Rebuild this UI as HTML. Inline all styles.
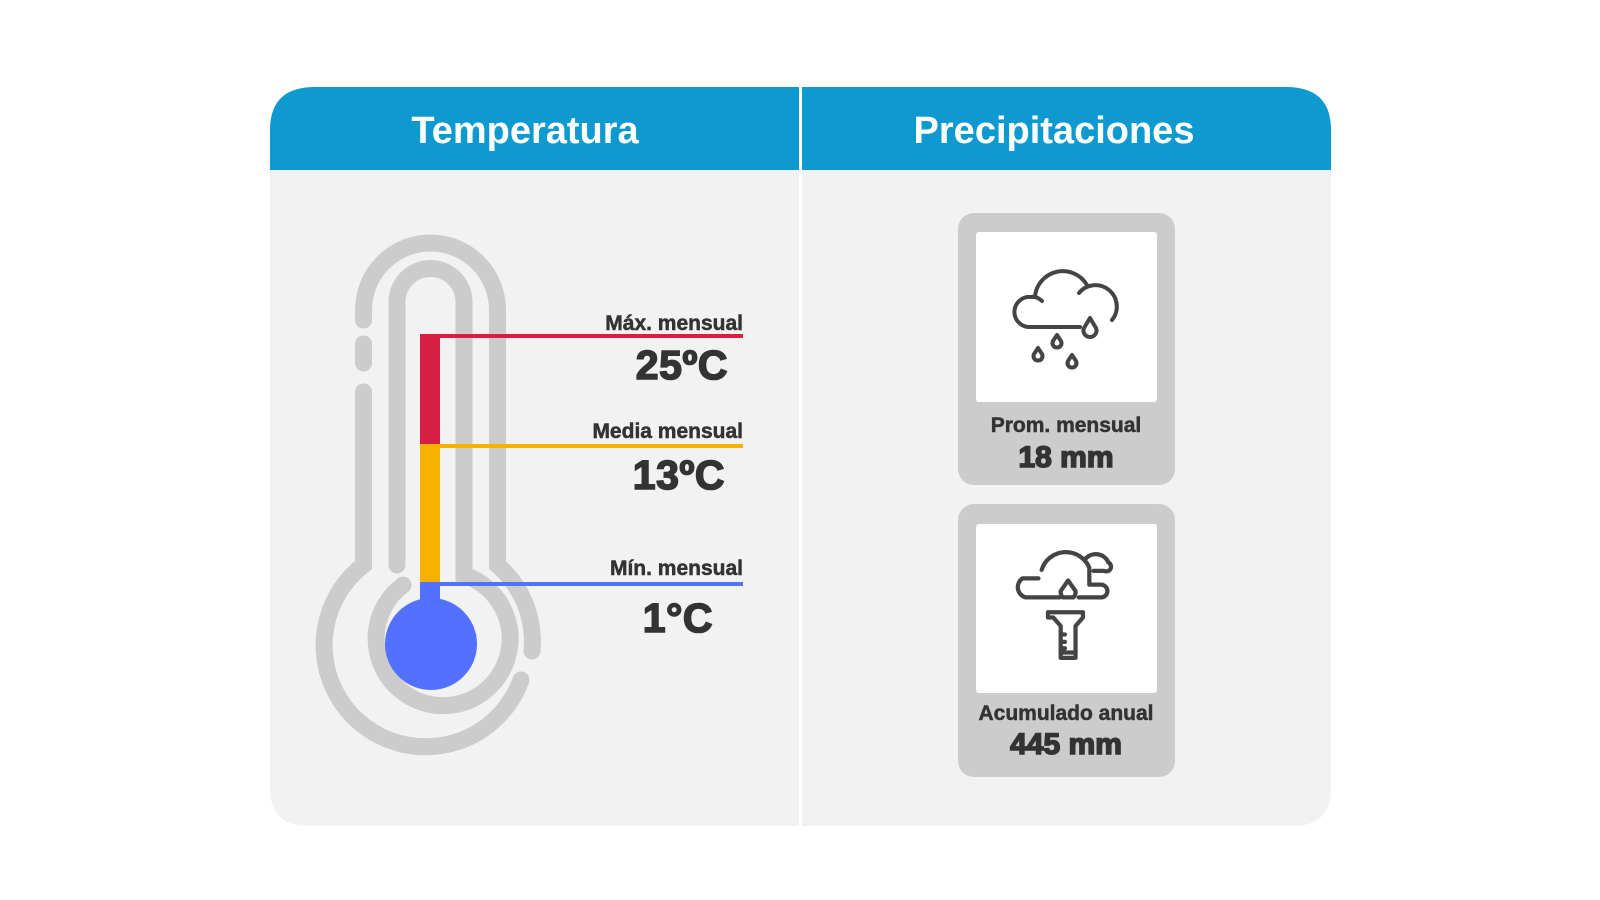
<!DOCTYPE html>
<html><head><meta charset="utf-8"><style>
html,body{margin:0;padding:0;background:#fff;width:1600px;height:900px;overflow:hidden}
svg{display:block}
text{font-family:"Liberation Sans",Arial,sans-serif;font-weight:bold;fill:#333}
.big{stroke:#333;stroke-width:1.6px}
.lab{stroke:#333;stroke-width:0.5px}
</style></head><body>
<svg width="1600" height="900" viewBox="0 0 1600 900">
<path d="M270,130 Q270,87 315,87 H1286 Q1331,87 1331,130 V788 Q1331,826 1293,826 H308 Q270,826 270,788 Z" fill="#f2f2f2"/>
<path d="M270,130 Q270,87 315,87 H1286 Q1331,87 1331,130 V170 H270 Z" fill="#0e99d0"/>
<rect x="799" y="87" width="3" height="739" fill="#fff"/>
<text x="525" y="143" font-size="38" text-anchor="middle" style="fill:#fff">Temperatura</text>
<text x="1054" y="143" font-size="38" text-anchor="middle" style="fill:#fff">Precipitaciones</text>

<g fill="none" stroke="#cccccc" stroke-width="17" stroke-linecap="round">
  <path d="M363.5,320 V310 A67,67 0 0 1 497.5,310 V565 A101.5,101.5 0 0 1 532,651"/>
  <line x1="363.5" y1="344" x2="363.5" y2="363"/>
  <path d="M363.5,392 V565 A101.5,101.5 0 1 0 521,680"/>
  <path d="M397,565 V302 A33.5,33.5 0 0 1 464,302 V575 A67,67 0 1 1 403,585"/>
</g>
<rect x="420" y="334" width="20" height="110" fill="#d61f43"/>
<rect x="420" y="444" width="20" height="138" fill="#f7b200"/>
<rect x="420" y="582" width="20" height="25" fill="#5271ff"/>
<circle cx="431" cy="644" r="46" fill="#5271ff"/>
<rect x="430" y="334" width="313" height="4" fill="#d61f43"/>
<rect x="430" y="444" width="313" height="4" fill="#f7b200"/>
<rect x="430" y="582" width="313" height="4" fill="#5271ff"/>
<text class="lab" x="743" y="330" font-size="21" text-anchor="end">Máx. mensual</text>
<text class="big" x="728" y="379" font-size="41" text-anchor="end" letter-spacing="0.5">25ºC</text>
<text class="lab" x="743" y="438" font-size="21" text-anchor="end">Media mensual</text>
<text class="big" x="725" y="489" font-size="41" text-anchor="end" letter-spacing="0.5">13ºC</text>
<text class="lab" x="743" y="575" font-size="21" text-anchor="end">Mín. mensual</text>
<text class="big" x="713" y="632" font-size="41" text-anchor="end" letter-spacing="0.5">1°C</text>

<rect x="958" y="213" width="217" height="272" rx="16" fill="#cccccc"/>
<rect x="976" y="232" width="181" height="170" rx="3" fill="#fff"/>
<rect x="958" y="504" width="217" height="273" rx="16" fill="#cccccc"/>
<rect x="976" y="524" width="181" height="169" rx="3" fill="#fff"/>
<text class="lab" x="1066" y="432" font-size="21" text-anchor="middle">Prom. mensual</text>
<text class="big" x="1066" y="467" font-size="30" text-anchor="middle">18 mm</text>
<text class="lab" x="1066" y="720" font-size="21" text-anchor="middle">Acumulado anual</text>
<text class="big" x="1066" y="754" font-size="30" text-anchor="middle">445 mm</text>

<g fill="none" stroke="#444" stroke-width="4" stroke-linecap="round" stroke-linejoin="round">
  <path d="M1080,327 H1028 A15,15 0 0 1 1031,297 Q1037,296 1042,301"/>
  <path d="M1035,296 A28,28 0 0 1 1087,285"/>
  <path d="M1079,293 A18,18 0 0 1 1112,320"/>
  <path d="M1090,318 L1084,328 A6.5,6.5 0 1 0 1096,328 Z"/>
  <path d="M1057,335 L1053,341 A4.5,4.5 0 1 0 1061,341 Z"/>
  <path d="M1038,348 L1034,354 A4.5,4.5 0 1 0 1042,354 Z"/>
  <path d="M1072,355 L1068,361 A4.5,4.5 0 1 0 1076,361 Z"/>
</g>
<g transform="translate(1066,608) scale(1.06) translate(-1066,-608)" fill="none" stroke="#444" stroke-width="4" stroke-linecap="round" stroke-linejoin="round">
  <path d="M1060,598 H1028 A10,10 0 0 1 1025,580 H1040"/>
  <path d="M1043,572 A24,24 0 0 1 1088,570 V586 H1098 A6,6 0 0 1 1100,598 H1078"/>
  <path d="M1084,562 A13,13 0 0 1 1106,565 A4,4 0 0 1 1102,573 H1092"/>
  <path d="M1068,582 L1061,592 A7.5,7.5 0 0 0 1063,598 H1073 A7.5,7.5 0 0 0 1075,592 Z"/>
  <path d="M1049,612 H1082 V617 L1075,625 V655 H1061 V625 L1054,617 H1049 Z"/>
  <path d="M1061,633 H1065 M1061,640 H1065 M1061,646 H1065 M1061,650 H1075"/>
</g>
</svg>
</body></html>
